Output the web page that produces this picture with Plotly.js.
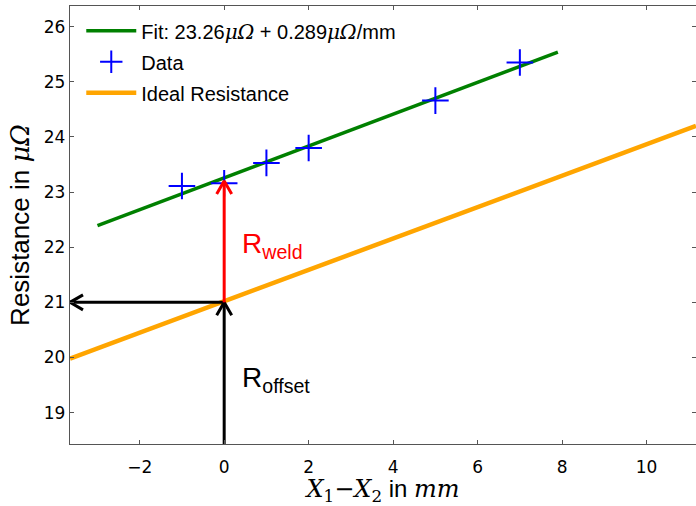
<!DOCTYPE html>
<html>
<head>
<meta charset="utf-8">
<script src="https://cdn.plot.ly/plotly-3.0.1.min.js"></script>
<style>html,body{margin:0;padding:0;background:#fff;}#chart{width:696px;height:506px;}</style>
</head>
<body>
<div id="chart"></div>
<script>
// ---- data ----
const dataX = [-1, 0, 1, 2, 5, 7];
const dataY = [23.11, 23.16, 23.53, 23.80, 24.66, 25.35];

const fitX = [-3, 7.9];
const fitY = [22.39, 25.54];

const idealX = [-3.65, 11.17];
const idealY = [19.98, 24.20];

const xTicks = [-2, 0, 2, 4, 6, 8, 10];
const yTicks = [19, 20, 21, 22, 23, 24, 25, 26];

// arrows: [fromX, fromY] -> [toX, toY]
const arrowFromX = [0, 0, 0];
const arrowFromY = [21, 18.43, 21];
const arrowToX = [-3.65, 0, 0];
const arrowToY = [21, 21, 23.2];
const arrowColor = ['#000000', '#000000', '#FF0000'];

const labelText = ['R<sub>weld</sub>', 'R<sub>offset</sub>'];
const labelX = [0.38, 0.38];
const labelY = [22.03, 19.6];
const labelColor = ['#FF0000', '#000000'];

// ---- layout geometry ----
const W = 696, H = 506;
const M = {l: 70, r: 0, t: 6, b: 62};
const xRange = [-3.65, 11.17];
const yRange = [18.43, 26.376];
const pxX = (W - M.l - M.r) / (xRange[1] - xRange[0]);
const pxY = (H - M.t - M.b) / (yRange[1] - yRange[0]);

const sans = "'Liberation Sans', Arial, sans-serif";
const mu = '<span style="font-family:DejaVu Serif"><i>μΩ</i></span>';

const traces = [
  {x: fitX, y: fitY, mode: 'lines', name: 'Fit: 23.26' + mu + ' + 0.289' + mu + '/mm',
   line: {color: '#008000', width: 3.5}, legendgroup: 'a'},
  {x: dataX, y: dataY, mode: 'markers', name: 'Data',
   marker: {symbol: 'cross-thin-open', size: 19, color: '#0000FF', line: {color: '#0000FF', width: 2}},
   legendgroup: 'b', cliponaxis: false},
  {x: idealX, y: idealY, mode: 'lines', name: 'Ideal Resistance',
   line: {color: '#FFA500', width: 4.5}, legendgroup: 'c'}
];

// arrows drawn as a shaft plus an open chevron head, sized in pixels
const headBack = 13, headSide = 7.5;
for (let i = 0; i < arrowFromX.length; i++) {
  const x0 = arrowFromX[i], y0 = arrowFromY[i], x1 = arrowToX[i], y1 = arrowToY[i];
  traces.push({x: [x0, x1], y: [y0, y1], mode: 'lines', showlegend: false, hoverinfo: 'skip',
    line: {color: arrowColor[i], width: 3}});
  const dx = (x1 - x0) * pxX, dy = (y1 - y0) * pxY;
  const L = Math.hypot(dx, dy);
  const ux = dx / L, uy = dy / L;
  const ax = -ux * headBack, ay = -uy * headBack;
  const nx = -uy * headSide, ny = ux * headSide;
  traces.push({
    x: [x1 + (ax + nx) / pxX, x1, x1 + (ax - nx) / pxX],
    y: [y1 + (ay + ny) / pxY, y1, y1 + (ay - ny) / pxY],
    mode: 'lines', showlegend: false, hoverinfo: 'skip',
    line: {color: arrowColor[i], width: 3}
  });
}

const annotations = labelText.map((t, i) => ({
  x: labelX[i], y: labelY[i], xref: 'x', yref: 'y', text: t, showarrow: false,
  xanchor: 'left', yanchor: 'middle',
  font: {family: sans, size: 28, color: labelColor[i]}
}));

const axisCommon = {
  showgrid: false, zeroline: false, showline: true, linecolor: '#555', linewidth: 1.3,
  mirror: 'ticks', ticks: 'inside', ticklen: 4, tickwidth: 1, tickcolor: '#555',
  tickfont: {family: "'DejaVu Sans', sans-serif", size: 17, color: '#000'}
};

const layout = {
  width: W, height: H,
  margin: M,
  paper_bgcolor: '#fff', plot_bgcolor: '#fff',
  showlegend: true,
  legend: {x: 0.018, y: 0.988, xanchor: 'left', yanchor: 'top', bgcolor: 'rgba(0,0,0,0)',
    font: {family: sans, size: 20, color: '#000'}, itemwidth: 50, tracegroupgap: 2},
  xaxis: Object.assign({}, axisCommon, {
    range: xRange, tickvals: xTicks, ticktext: xTicks.map(v => v < 0 ? '−' + Math.abs(v) : String(v)),
    automargin: false, ticklabelstandoff: 7,
    title: {text: '<span style="font-family:DejaVu Serif"><i>X</i><sub>1</sub>−<i>X</i><sub>2</sub></span> in <span style="font-family:DejaVu Serif"><i>mm</i></span>',
      font: {family: sans, size: 24, color: '#000'}, standoff: 4}
  }),
  yaxis: Object.assign({}, axisCommon, {
    range: yRange, tickvals: yTicks,
    automargin: false,
    title: {text: 'Resistance in ' + mu,
      font: {family: sans, size: 26, color: '#000'}, standoff: 6}
  }),
  annotations: annotations
};

Plotly.newPlot('chart', traces, layout, {staticPlot: true, displayModeBar: false});
</script>
</body>
</html>
